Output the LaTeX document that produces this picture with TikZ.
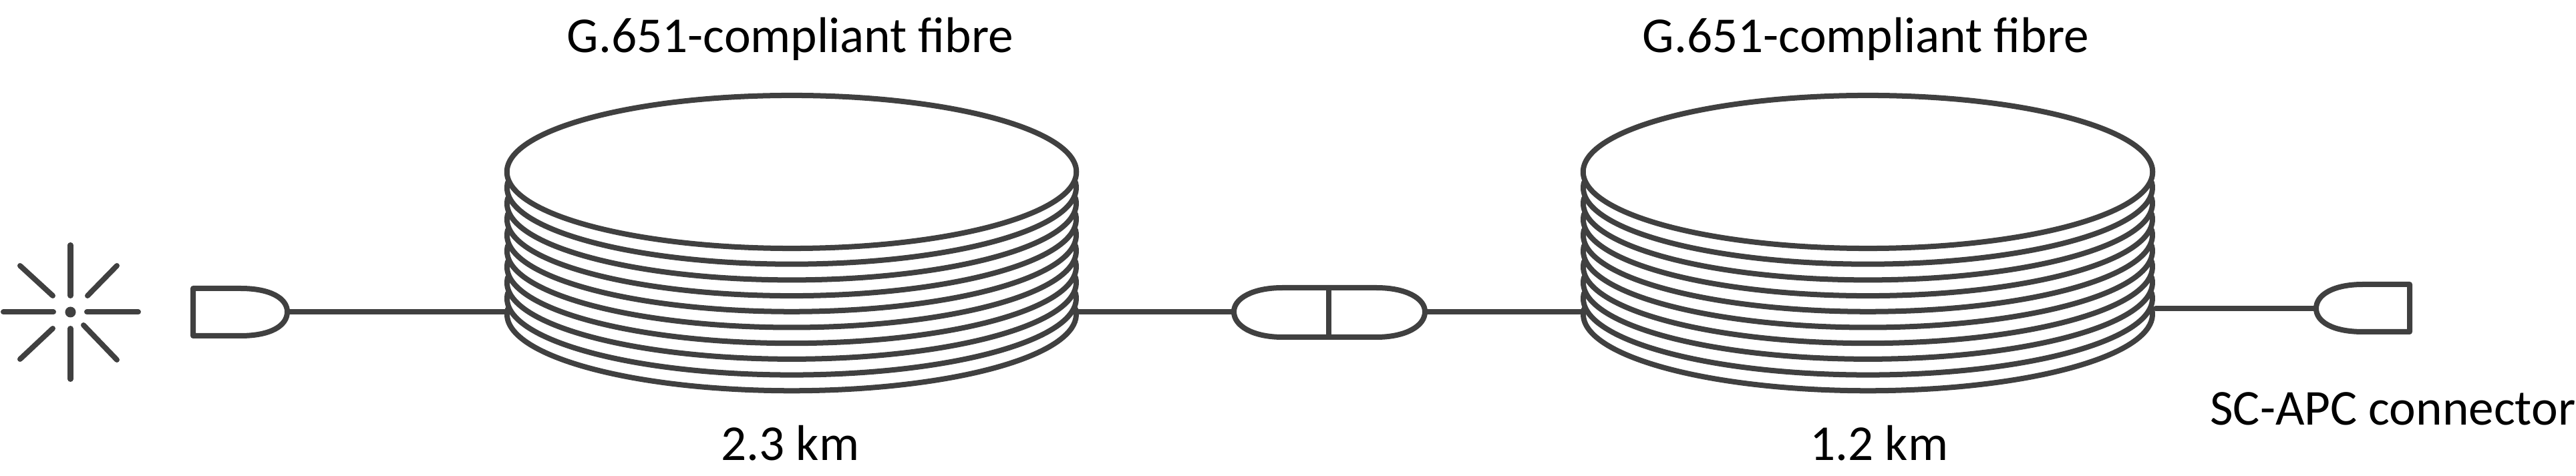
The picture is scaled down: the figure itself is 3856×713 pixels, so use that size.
\documentclass[tikz,border=0pt]{standalone}
\usepackage{xcolor}
\usepackage{fontspec}
\setmainfont{Carlito}
\usetikzlibrary{shapes.geometric, calc}
\definecolor{fibregray}{HTML}{404040}
\tikzset{
  fibre/.style={line width=0.08cm, color=fibregray, line cap=round, line join=round},
  coiltop/.style={
    ellipse, draw=fibregray, line width=0.08cm, inner sep=0pt, outer sep=0pt,
    minimum width=8.52cm, minimum height=2.29cm,
  },
  source/.style={
    circle, fill=fibregray, inner sep=0pt, minimum size=0.16cm,
  },
  label/.style={font=\fontsize{21.4pt}{26pt}\selectfont, inner sep=0pt, anchor=base},
}

\begin{document}
\begin{tikzpicture}[x=0.01cm, y=-0.01cm]

  \useasboundingbox (0,0) rectangle (3856,713);

  % light source
  \node[source] (laser) at (105.5,467.5) {};
  \foreach \ax/\ay/\bx/\by in {105.5/367/105.5/443, 105.5/492/105.5/568, 5/467.5/80/467.5, 130/467.5/207/467.5,
      30/398/79/443, 175/398/131/443, 30/538/79/492, 175/539/125/487}
    \draw[fibre] (\ax,\ay) -- (\bx,\by);

  % coils
  \node[coiltop] (coilA) at (1185,257.5) {};
  \node[coiltop] (coilB) at (2796,257.5) {};
  \foreach \c in {coilA, coilB}
    \foreach \k in {1,...,9}
      \draw[fibre] ($(\c.center)+(0,\k*23.7)+(184:426 and 114.5)$)
        arc[start angle=184, end angle=-4, x radius=426, y radius=114.5];

  % connectors
  \coordinate (plugAtip) at (430,467);
  \draw[fibre] (289,432) -- (360,432) .. controls (405,432) and (430,447) .. (plugAtip)
    .. controls (430,488) and (405,503) .. (360,503) -- (289,503) -- cycle;

  \coordinate (midL) at (1847,467);
  \coordinate (midR) at (2133,467);
  \coordinate (midtop) at (1989,431);
  \coordinate (midbot) at (1989,505);
  \draw[fibre] (1920,431) -- (midtop) -- (2060,431) .. controls (2105,431) and (2133,447) .. (midR)
    .. controls (2133,488) and (2105,505) .. (2060,505) -- (midbot) -- (1920,505)
    .. controls (1875,505) and (1847,488) .. (midL) .. controls (1847,447) and (1875,431) .. (1920,431) -- cycle;
  \draw[fibre] (midtop) -- (midbot);

  \coordinate (plugBtip) at (3467,462);
  \draw[fibre] (3607,426) -- (3537,426) .. controls (3492,426) and (3467,442) .. (plugBtip)
    .. controls (3467,482) and (3492,497) .. (3537,497) -- (3607,497) -- cycle;

  % fibre runs
  \coordinate (inA) at (759,467);
  \coordinate (outA) at (1611,467);
  \coordinate (inB) at (2371,467);
  \coordinate (outB) at (3227,462);
  \draw[fibre] (plugAtip) -- (inA);
  \draw[fibre] (outA) -- (midL);
  \draw[fibre] (midR) -- (inB);
  \draw[fibre] (outB) -- (plugBtip);

  % labels
  \node[label] (fibreA) at (1183,79) {G.651-compliant f{}ibre};
  \node[label] (fibreB) at (2793,79) {G.651-compliant f{}ibre};
  \node[label] (lenA) at (1183,690) {2.3 km};
  \node[label] (lenB) at (2813,690) {1.2 km};
  \node[label, anchor=base east] (plugtext) at (3856,637) {SC-APC connector};

\end{tikzpicture}
\end{document}
